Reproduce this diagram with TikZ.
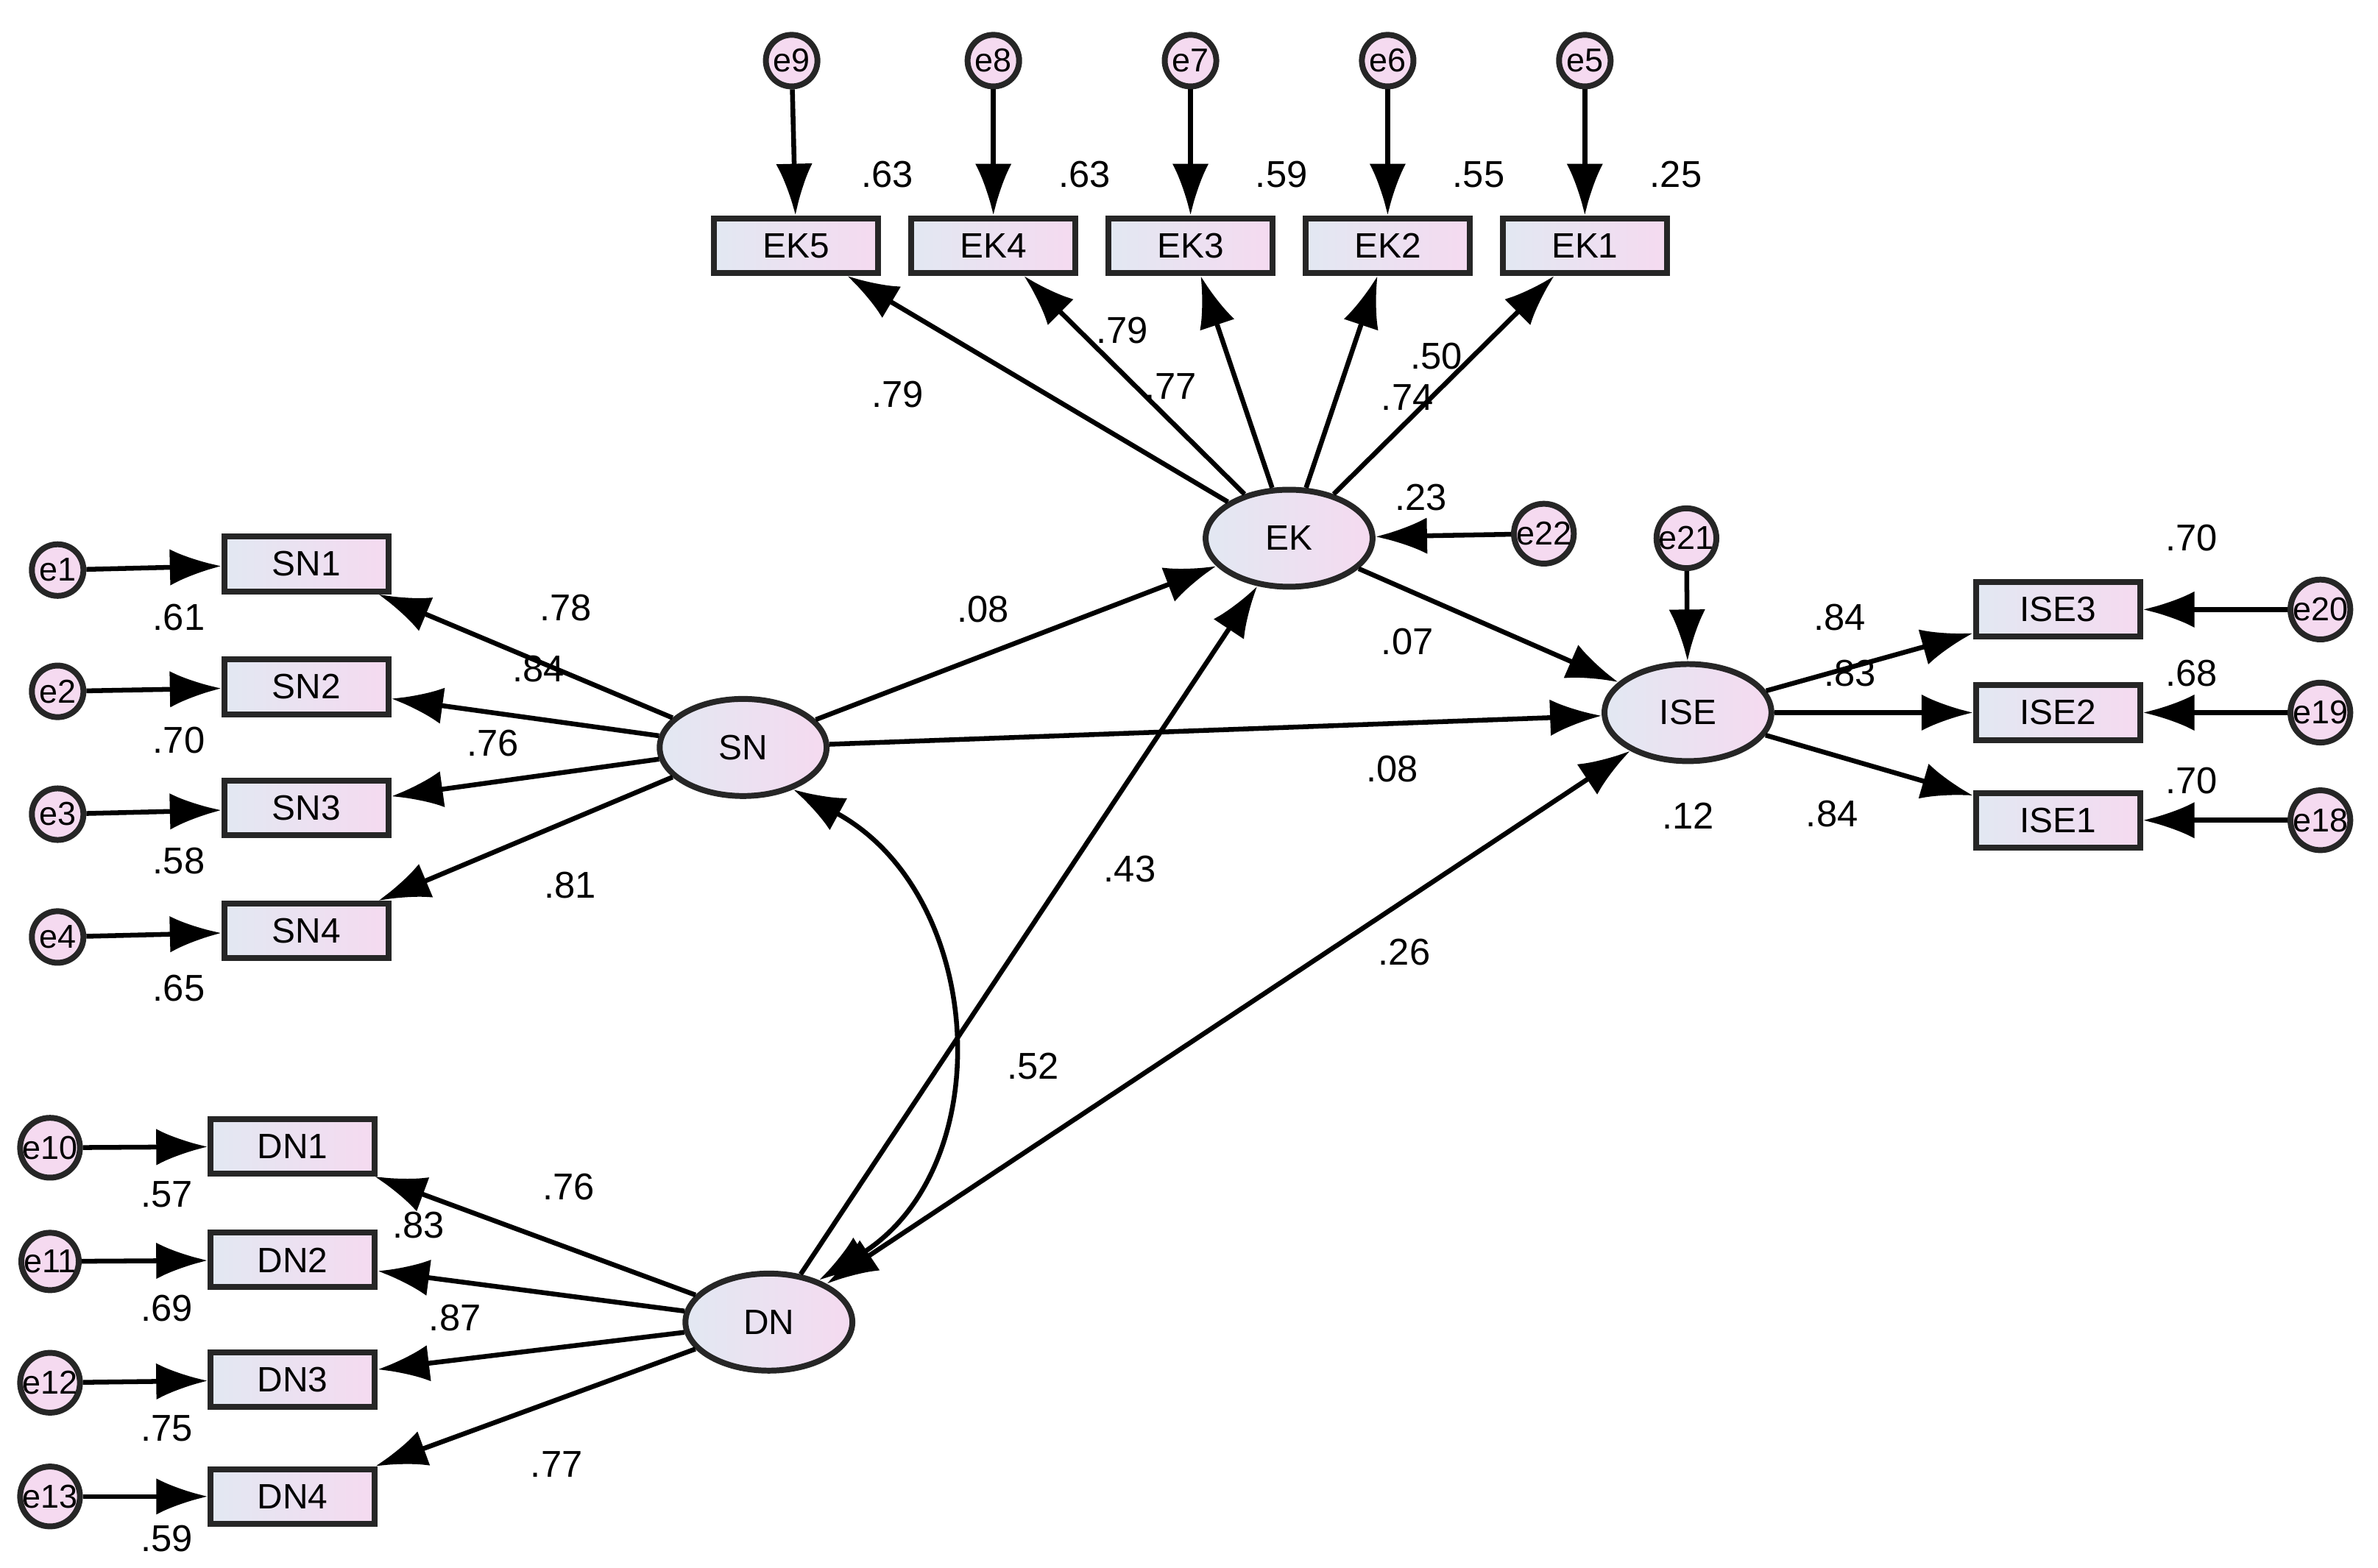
\documentclass[tikz,border=0pt]{standalone}
\usepackage{fontspec}
\setmainfont{Liberation Sans}
\usetikzlibrary{shapes.geometric,arrows.meta}
\definecolor{cA}{RGB}{226,232,242}
\definecolor{cB}{RGB}{245,218,240}
\begin{document}
\begin{tikzpicture}[x=0.01cm,y=-0.01cm,
 box/.style={draw=black!85,line width=1.1pt,minimum width=1.08cm,minimum height=0.36cm,inner sep=0pt,left color=cA,right color=cB,font=\fontsize{6.6pt}{7pt}\selectfont},
 lat/.style={ellipse,draw=black!85,line width=1.1pt,minimum width=1.1cm,minimum height=0.64cm,inner sep=0pt,left color=cA,right color=cB,font=\fontsize{6.6pt}{7pt}\selectfont},
 err/.style={circle,draw=black!85,line width=1.1pt,minimum size=0.34cm,inner sep=0pt,fill=cB,font=\fontsize{6.2pt}{7pt}\selectfont},
 ar/.style={line width=0.9pt,-{Latex[length=0.34cm,width=0.24cm]}},
 dar/.style={line width=0.9pt,{Latex[length=0.34cm,width=0.24cm]}-{Latex[length=0.34cm,width=0.24cm]}},
 lb/.style={font=\fontsize{7pt}{8pt}\selectfont,inner sep=0pt}]
\useasboundingbox (0,0) rectangle (1568,1034);
% EK block
\node[err] (e9) at (522,40) {e9};
\node[err] (e8) at (655,40) {e8};
\node[err] (e7) at (785,40) {e7};
\node[err] (e6) at (915,40) {e6};
\node[err] (e5) at (1045,40) {e5};
\node[box] (EK5) at (525,162) {EK5};
\node[box] (EK4) at (655,162) {EK4};
\node[box] (EK3) at (785,162) {EK3};
\node[box] (EK2) at (915,162) {EK2};
\node[box] (EK1) at (1045,162) {EK1};
\node[lat] (EK) at (850,355) {EK};
\node[err] (e22) at (1018,352) {e22};
\node[err] (e21) at (1112,355) {e21};
\node[lat] (ISE) at (1113,470) {ISE};
\node[box] (ISE3) at (1357,402) {ISE3};
\node[box] (ISE2) at (1357,470) {ISE2};
\node[box] (ISE1) at (1357,541) {ISE1};
\node[err] (e20) at (1530,402) {e20};
\node[err] (e19) at (1530,470) {e19};
\node[err] (e18) at (1530,541) {e18};
\node[lat] (SN) at (490,493) {SN};
\node[box] (SN1) at (202,372) {SN1};
\node[box] (SN2) at (202,453) {SN2};
\node[box] (SN3) at (202,533) {SN3};
\node[box] (SN4) at (202,614) {SN4};
\node[err] (e1) at (38,376) {e1};
\node[err] (e2) at (38,456) {e2};
\node[err] (e3) at (38,537) {e3};
\node[err] (e4) at (38,618) {e4};
\node[lat] (DN) at (507,872) {DN};
\node[box] (DN1) at (193,756) {DN1};
\node[box] (DN2) at (193,831) {DN2};
\node[box] (DN3) at (193,910) {DN3};
\node[box] (DN4) at (193,987) {DN4};
\node[err] (e10) at (33,757) {e10};
\node[err] (e11) at (33,832) {e11};
\node[err] (e12) at (33,912) {e12};
\node[err] (e13) at (33,987) {e13};
% arrows
\foreach \a/\b in {e9/EK5,e8/EK4,e7/EK3,e6/EK2,e5/EK1,EK/EK5,EK/EK4,EK/EK3,EK/EK2,EK/EK1,
 e22/EK,e21/ISE,EK/ISE,SN/EK,SN/ISE,DN/EK,ISE/ISE3,ISE/ISE2,ISE/ISE1,e20/ISE3,e19/ISE2,e18/ISE1,
 SN/SN1,SN/SN2,SN/SN3,SN/SN4,e1/SN1,e2/SN2,e3/SN3,e4/SN4,
 DN/DN1,DN/DN2,DN/DN3,DN/DN4,e10/DN1,e11/DN2,e12/DN3,e13/DN4}
 \draw[ar] (\a) -- (\b);
\draw[dar] (DN) -- (ISE);
\draw[dar] (SN.-40) .. controls (650,590) and (660,770) .. (DN.40);
% labels
\foreach \t/\x/\y in {.63/585/115,.63/715/115,.59/845/115,.55/975/115,.25/1105/115,
 .79/592/260,.79/740/218,.77/772/255,.50/947/235,.74/928/262,.23/937/328,
 .08/648/402,.07/928/423,.08/918/507,.12/1113/538,
 .70/1445/355,.84/1213/407,.83/1220/444,.68/1445/444,.84/1208/537,.70/1445/515,
 .78/373/401,.84/355/441,.76/325/490,.81/376/584,
 .61/118/407,.70/118/488,.58/118/568,.65/118/652,
 .43/745/573,.52/681/703,.26/926/628,
 .76/375/783,.83/276/808,.87/300/869,.77/367/966,
 .57/110/788,.69/110/863,.75/110/942,.59/110/1015}
 \node[lb] at (\x,\y) {\t};
\end{tikzpicture}
\end{document}
